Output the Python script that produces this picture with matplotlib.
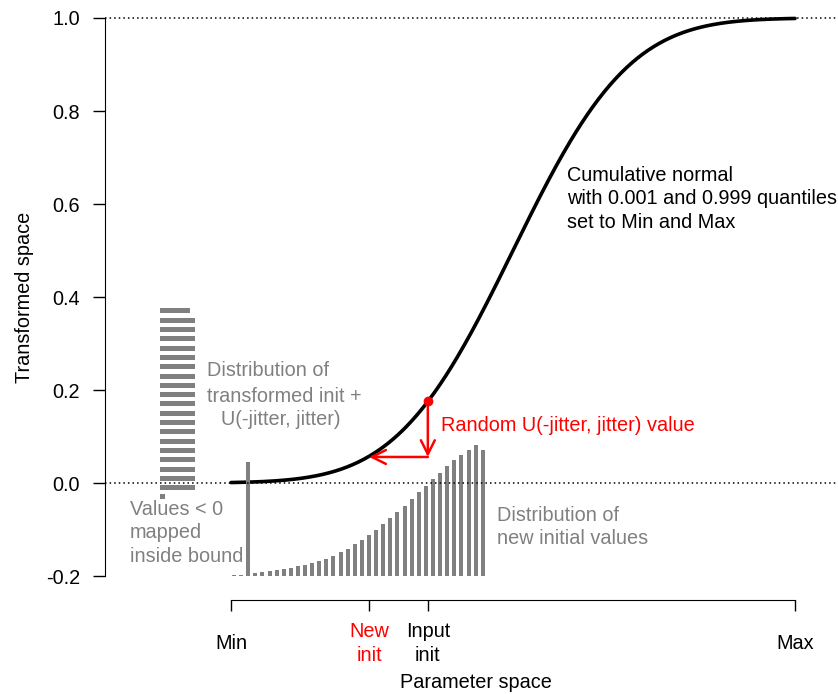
import math
import numpy as np
import matplotlib.pyplot as plt

plt.rcParams['font.family'] = ['Liberation Sans', 'DejaVu Sans']

# Parameter space rescaled so that Min = 0 and Max = 1
x_min, x_max = 0.0, 1.0
q_low, q_high = 0.001, 0.999
z_high = 3.090232          # qnorm(0.999)
input_init = 0.349
new_init = 0.245
jitter_value = 0.056       # transformed init after adding U(-jitter, jitter)

tick_pos = [x_min, new_init, input_init, x_max]
tick_labels = ['Min', 'New\ninit', 'Input\ninit', 'Max']
tick_colors = ['black', 'red', 'black', 'black']
ytick_vals = [-0.2, 0.0, 0.2, 0.4, 0.6, 0.8, 1.0]

# Distribution of transformed init + U(-jitter, jitter) (horizontal histogram)
trans_bins = [-0.03, -0.01, 0.01, 0.03, 0.05, 0.07, 0.09, 0.11, 0.13, 0.15, 0.17,
              0.19, 0.21, 0.23, 0.25, 0.27, 0.29, 0.31, 0.33, 0.35, 0.37]
trans_counts = [0.009, 0.062, 0.062, 0.062, 0.062, 0.062, 0.062, 0.062, 0.062, 0.062, 0.062,
                0.062, 0.062, 0.062, 0.062, 0.062, 0.062, 0.062, 0.062, 0.062, 0.053]

# Distribution of new initial values (vertical histogram on -0.2 baseline)
new_bins = [0.0053, 0.0179, 0.0305, 0.0431, 0.0557, 0.0683, 0.0809, 0.0935, 0.1061,
            0.1187, 0.1313, 0.1439, 0.1565, 0.1691, 0.1817, 0.1943, 0.2069, 0.2195,
            0.2321, 0.2447, 0.2573, 0.2699, 0.2825, 0.2951, 0.3077, 0.3203, 0.3329,
            0.3455, 0.3581, 0.3707, 0.3833, 0.3959, 0.4085, 0.4211, 0.4337, 0.4463]
new_counts = [0.002, 0.002, 0.246, 0.007, 0.008, 0.010, 0.012, 0.016, 0.017, 0.021,
              0.024, 0.028, 0.033, 0.037, 0.044, 0.051, 0.059, 0.068, 0.078, 0.088,
              0.100, 0.112, 0.124, 0.138, 0.151, 0.165, 0.180, 0.194, 0.208, 0.222,
              0.237, 0.249, 0.261, 0.272, 0.281, 0.272]

grey = '#808080'
fs = 14.3
ls = 1.32

mu = (x_min + x_max) / 2
sd = (x_max - mu) / z_high


def cdf(x):
    return 0.5 * (1 + math.erf((x - mu) / (sd * math.sqrt(2))))


fig = plt.figure(figsize=(8.38, 6.94), dpi=100)
ax = fig.add_axes([105 / 838, 94 / 694, 733 / 838, 586 / 694])
ax.set_xlim(-0.2234, 1.0762)
ax.set_ylim(-0.2516, 1.0086)

# curve
xs = np.linspace(x_min, x_max, 400)
ax.plot(xs, [cdf(v) for v in xs], color='black', lw=2.6, zorder=2,
        solid_capstyle='round', clip_on=False)

# histograms
ax.bar(new_bins, new_counts, width=0.0071, bottom=-0.2, color=grey, zorder=3)
ax.barh(trans_bins, trans_counts, height=0.0108, left=-0.126, color=grey, zorder=3)

# reference lines
ax.axhline(0, ls=(0, (1, 2)), color='black', lw=1.1, zorder=4)
ax.axhline(1, ls=(0, (1, 2)), color='black', lw=1.1, zorder=4)

# jitter arrows
arrow = dict(arrowstyle='->,head_length=0.5,head_width=0.25', color='red', lw=1.8,
             shrinkA=0, shrinkB=0, mutation_scale=20)
ax.annotate('', xy=(input_init, jitter_value), xytext=(input_init, cdf(input_init)),
            arrowprops=arrow, zorder=5)
ax.annotate('', xy=(new_init, jitter_value), xytext=(input_init, jitter_value),
            arrowprops=arrow, zorder=5)
ax.plot(input_init, cdf(input_init), 'o', color='red', ms=6, zorder=6)

# axes
for s in ['top', 'right']:
    ax.spines[s].set_visible(False)
ax.spines['left'].set_bounds(-0.2, 1.0)
ax.spines['bottom'].set_bounds(x_min, x_max)
ax.set_yticks(ytick_vals, labels=['%.1f' % v for v in ytick_vals])
ax.tick_params(axis='y', length=8.6, width=1, pad=9.4, labelsize=fs)
ax.set_xticks(tick_pos, labels=['' for _ in tick_pos])
ax.tick_params(axis='x', length=8, width=1)
for p, lab, c in zip(tick_pos, tick_labels, tick_colors):
    ax.text(p, -0.0743, lab, transform=ax.get_xaxis_transform(), ha='center', va='center',
            color=c, fontsize=fs, linespacing=ls)

fig.text(476 / 838, 1 - 682 / 694, 'Parameter space', ha='center', va='center', fontsize=fs)
fig.text(25 / 838, 1 - 297 / 694, 'Transformed space', ha='center', va='center',
         rotation=90, fontsize=fs)

# annotations
ax.text(0.5957, 0.6108, 'Cumulative normal\nwith 0.001 and 0.999 quantiles\nset to Min and Max',
        ha='left', va='center', fontsize=fs, linespacing=ls)
for x, y, s in [(0.0656, 0.2409, 'Distribution of'),
                (0.094, 0.1871, 'transformed init +'),
                (0.0887, 0.1355, 'U(-jitter, jitter)')]:
    ax.text(x, y, s, ha='center', va='center', color=grey, fontsize=fs)
ax.text(-0.179, -0.1075, 'Values < 0\nmapped\ninside bound', ha='left', va='center',
        color=grey, fontsize=fs, linespacing=ls)
ax.text(0.4716, -0.0946, 'Distribution of\nnew initial values', ha='left', va='center',
        color=grey, fontsize=fs, linespacing=ls)
ax.text(0.3723, 0.1226, 'Random U(-jitter, jitter) value', ha='left', va='center',
        color='red', fontsize=fs)

fig.savefig('out.png', dpi=100)
